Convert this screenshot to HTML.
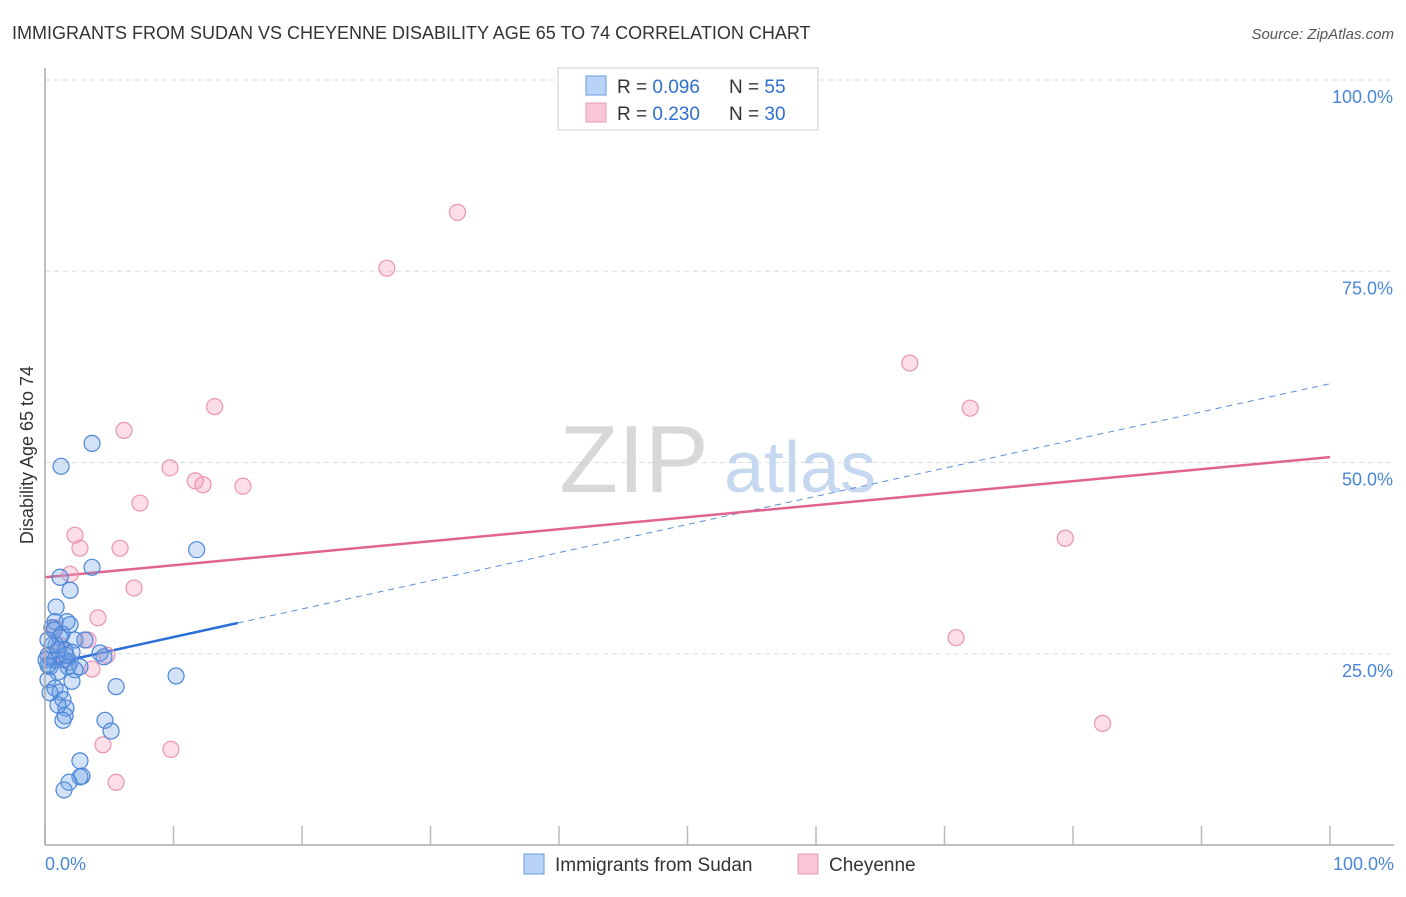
<!DOCTYPE html>
<html><head><meta charset="utf-8"><style>
body{margin:0;background:#fff;font-family:"Liberation Sans",sans-serif;}
svg text{font-family:"Liberation Sans",sans-serif;}
</style></head><body>
<svg id="chart" width="1406" height="892" xmlns="http://www.w3.org/2000/svg">
<text x="12" y="39" font-size="18" fill="#333">IMMIGRANTS FROM SUDAN VS CHEYENNE DISABILITY AGE 65 TO 74 CORRELATION CHART</text>
<text x="1394" y="39" font-size="15" fill="#555" font-style="italic" text-anchor="end">Source: ZipAtlas.com</text>
<text x="33" y="455" font-size="18" fill="#333" text-anchor="middle" transform="rotate(-90 33 455)">Disability Age 65 to 74</text>
<g id="grid"></g>
<g id="yticks"></g>
<g id="xticks"></g>
<text x="634" y="492" font-size="96" fill="#d8d8d8" font-family="Liberation Serif" text-anchor="middle">ZIP</text>
<text x="800" y="492" font-size="72" fill="#c6d8ef" text-anchor="middle">atlas</text>
<g id="lines"></g>
<g id="pts"></g>
<line x1="45" y1="68" x2="45" y2="845" stroke="#aaa" stroke-width="1.5"/>
<line x1="45" y1="845" x2="1394" y2="845" stroke="#aaa" stroke-width="1.5"/>
<text x="45" y="870" font-size="18" fill="#4a86d8">0.0%</text>
<text x="1394" y="870" font-size="18" fill="#4a86d8" text-anchor="end">100.0%</text>
<g>
<rect x="558" y="68" width="260" height="62" fill="#fff" stroke="#ccc"/>
<rect x="586" y="76" width="20" height="19" fill="#b8d3f5" stroke="#6a9ee0"/>
<rect x="586" y="103" width="20" height="19" fill="#f9c6d6" stroke="#e89ab4"/>
<text x="617" y="93" font-size="19" fill="#333">R = <tspan fill="#2f6fd0">0.096</tspan><tspan x="729">N = </tspan><tspan fill="#2f6fd0">55</tspan></text>
<text x="617" y="120" font-size="19" fill="#333">R = <tspan fill="#2f6fd0">0.230</tspan><tspan x="729">N = </tspan><tspan fill="#2f6fd0">30</tspan></text>
</g>
<g>
<rect x="524" y="854" width="20" height="20" fill="#b8d3f5" stroke="#6a9ee0"/>
<text x="555" y="871" font-size="19" fill="#333">Immigrants from Sudan</text>
<rect x="798" y="854" width="20" height="20" fill="#f9c6d6" stroke="#e89ab4"/>
<text x="829" y="871" font-size="19" fill="#333">Cheyenne</text>
</g>
</svg>
<script>
const yTickValues=[25,50,75,100];
const yTickLabels=["25.0%","50.0%","75.0%","100.0%"];
const xTickValues=[0,10,20,30,40,50,60,70,80,90,100];
const sudanX=[3.66,1.25,11.8,3.66,1.17,1.95,0.86,0.78,1.71,0.54,1.32,2.33,1.17,0.86,1.56,2.1,4.28,0.23,0.78,1.48,1.95,0.39,1.79,2.72,1.01,2.33,0.23,2.1,0.78,1.17,5.53,10.2,0.39,1.4,1.63,1.56,1.4,4.67,5.14,2.72,2.88,2.72,1.87,1.48,0.54,0.08,0.23,1.01,1.63,3.11,4.59,1.01,0.7,1.95,0.23];
const sudanY=[52.5,49.5,38.6,36.3,35.0,33.3,31.1,29.2,29.2,28.4,27.6,26.8,27.1,26.1,25.5,25.2,25.1,24.8,24.2,24.2,23.9,23.3,23.3,23.3,22.6,22.9,21.6,21.4,20.5,20.0,20.7,22.1,19.9,19.0,17.9,16.9,16.3,16.3,14.9,11.0,9.0,8.9,8.2,7.2,26.1,24.2,23.5,25.5,24.8,26.8,24.6,18.3,28.1,28.8,26.8];
const cheyX=[32.1,26.6,67.3,13.2,72.0,6.15,9.73,11.7,12.3,15.4,7.39,79.4,2.33,2.72,5.84,1.95,6.93,4.12,3.35,70.9,1.17,0.78,0.39,3.66,4.82,82.3,9.8,4.51,5.53,1.56];
const cheyY=[82.7,75.4,63.0,57.3,57.1,54.2,49.3,47.6,47.1,46.9,44.7,40.1,40.5,38.8,38.8,35.4,33.6,29.7,26.8,27.1,26.1,28.4,24.8,23.0,24.8,15.9,12.5,13.1,8.2,24.2];
const sudanTrend=[23.5,60.3]; const sudanSolidEnd=15;
const cheyTrend=[35.0,50.7];
const NS="http://www.w3.org/2000/svg";
const X=v=>45+v*12.85, Y=v=>845-v*7.65;
function mk(tag,attrs,parent){const e=document.createElementNS(NS,tag);for(const k in attrs)e.setAttribute(k,attrs[k]);parent.appendChild(e);return e;}
const grid=document.getElementById('grid'),yt=document.getElementById('yticks'),xt=document.getElementById('xticks');
yTickValues.forEach((v,i)=>{
 const l=mk('line',{x1:45,x2:1394,y1:Y(v),y2:Y(v),stroke:'#ddd','stroke-dasharray':'5,4'},grid);
 
 
 const t=mk('text',{x:1393,y:Y(v)+23,'font-size':18,fill:'#4a86d8','text-anchor':'end'},yt);
 t.textContent=yTickLabels[i];
 
 
});
xTickValues.forEach(v=>{
 const l=mk('line',{x1:X(v),x2:X(v),y1:826,y2:845,stroke:'#bbb','stroke-width':1.5},xt);
 
 
});
const lines=document.getElementById('lines');
let l1=mk('line',{x1:X(0),y1:Y(sudanTrend[0]),x2:X(sudanSolidEnd),y2:Y(sudanTrend[0]+(sudanTrend[1]-sudanTrend[0])*sudanSolidEnd/100),stroke:'#2a6fd6','stroke-width':2.5},lines);


let l2=mk('line',{x1:X(sudanSolidEnd),y1:Y(sudanTrend[0]+(sudanTrend[1]-sudanTrend[0])*sudanSolidEnd/100),x2:X(100),y2:Y(sudanTrend[1]),stroke:'#5a8fd8','stroke-width':1,'stroke-dasharray':'6,5'},lines);


let l3=mk('line',{x1:X(0),y1:Y(cheyTrend[0]),x2:X(100),y2:Y(cheyTrend[1]),stroke:'#e0648e','stroke-width':2.5},lines);


const pts=document.getElementById('pts');
cheyX.forEach((x,i)=>{
 const c=mk('circle',{cx:X(x),cy:Y(cheyY[i]),r:8,fill:'rgba(244,160,188,0.35)',stroke:'#eb93b0','stroke-width':1.2},pts);
 
 
});
sudanX.forEach((x,i)=>{
 const c=mk('circle',{cx:X(x),cy:Y(sudanY[i]),r:8,fill:'rgba(110,160,230,0.3)',stroke:'#4a86d8','stroke-width':1.2},pts);
 
 
});
</script>
</body></html>
